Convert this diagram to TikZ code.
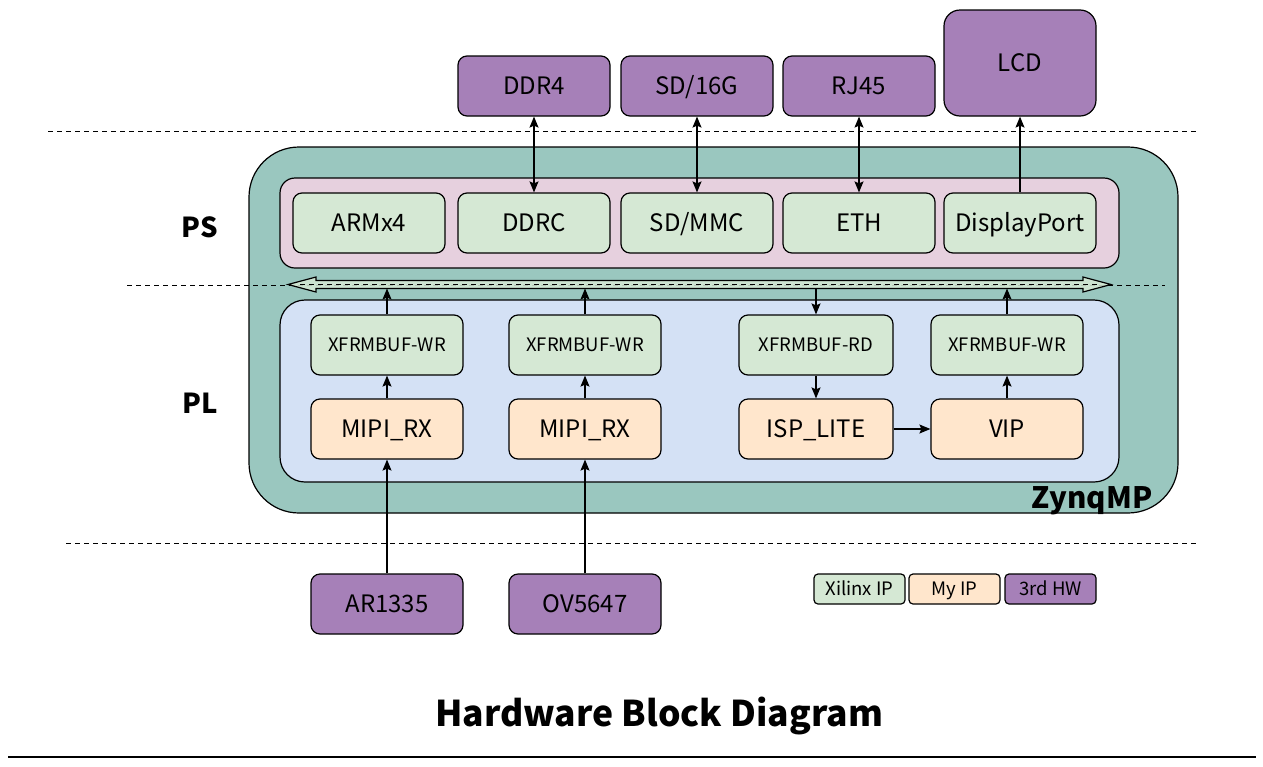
\documentclass[tikz,border=0pt]{standalone}
\usepackage{fontspec}
\setmainfont{Noto Sans CJK SC}
\usetikzlibrary{arrows.meta}
\definecolor{hwpurple}{HTML}{A680B8}
\definecolor{ipgreen}{HTML}{D5E8D4}
\definecolor{myorange}{HTML}{FFE6CC}
\definecolor{plblue}{HTML}{D4E1F5}
\definecolor{pspink}{HTML}{E6D0DE}
\definecolor{zteal}{HTML}{9AC7BF}
\tikzset{
  blk/.style={draw=black, line width=1.2pt, rounded corners=9pt, minimum width=152pt, minimum height=60pt, inner sep=0pt, text depth=0pt, text height=16pt, font=\fontsize{24}{28}\selectfont},
  hw/.style={blk, fill=hwpurple},
  xip/.style={blk, fill=ipgreen},
  myip/.style={blk, fill=myorange},
  small/.style={font=\fontsize{18.5}{22}\selectfont, text height=12.5pt},
  leg/.style={draw=black, line width=1.2pt, rounded corners=4pt, minimum width=91pt, minimum height=30pt, inner sep=0pt, text depth=0pt, text height=12.5pt, font=\fontsize{18.5}{22}\selectfont},
  sep/.style={line width=0.9pt, dash pattern=on 5pt off 4pt},
  conn/.style={line width=1.2pt, -{Stealth[length=11pt,width=9pt,inset=2pt]}},
  bconn/.style={line width=1.2pt, {Stealth[length=11pt,width=9pt,inset=2pt]}-{Stealth[length=11pt,width=9pt,inset=2pt]}},
  lbl/.style={font=\fontsize{27.5}{31}\selectfont\bfseries},
}
\begin{document}
\begin{tikzpicture}[x=1pt,y=-1pt]
\useasboundingbox (0,0) rectangle (1263,766);
\fill[white] (0,0) rectangle (1263,766);

% separators
\draw[sep] (48,131) -- (1198,131);
\draw[sep] (66,543) -- (1198,543);

% ZynqMP container
\draw[line width=1.2pt, fill=zteal, rounded corners=50pt] (249,147) rectangle (1178,513);
\node[font=\fontsize{29.5}{32}\selectfont\bfseries, anchor=base east] (zlbl) at (1156,508) {ZynqMP};
% PS
\draw[line width=1.2pt, fill=pspink, rounded corners=15pt] (280,178) rectangle (1119,268);
% PL
\draw[line width=1.2pt, fill=plblue, rounded corners=25pt] (280,300) rectangle (1119,482);

\node[lbl] (pslbl) at (200,227) {PS};
\node[lbl] (pllbl) at (200,403) {PL};

% external HW
\node[hw] (ddr4) at (534,86) {DDR4};
\node[hw] (sd16) at (697,86) {SD/16G};
\node[hw] (rj45) at (859,86) {RJ45};
\node[hw, minimum height=106pt, rounded corners=16pt] (lcd) at (1020,63) {LCD};

% PS blocks
\node[xip] (arm) at (369,223) {ARMx4};
\node[xip] (ddrc) at (534,223) {DDRC};
\node[xip] (sdmmc) at (697,223) {SD/MMC};
\node[xip] (eth) at (859,223) {ETH};
\node[xip] (dp) at (1020,223) {DisplayPort};

% bus
\draw[sep] (127,285) -- (1165,285);
\draw[line width=1.2pt, fill=ipgreen, fill opacity=0.85]
  (288,284.5) -- (316,277) -- (316,280.5) -- (1083,280.5) -- (1083,277) -- (1111,284.5)
  -- (1083,292) -- (1083,288.5) -- (316,288.5) -- (316,292) -- cycle;
\draw[sep, line width=0.9pt] (300,284.5) -- (1100,284.5);
\coordinate (b1) at (387,288.5);
\coordinate (b2) at (585,288.5);
\coordinate (b3) at (816,288.5);
\coordinate (b4) at (1007,288.5);

% PL blocks
\node[xip, small] (wr1) at (387,345) {XFRMBUF-WR};
\node[xip, small] (wr2) at (585,345) {XFRMBUF-WR};
\node[xip, small, minimum width=154pt] (rd) at (816,345) {XFRMBUF-RD};
\node[xip, small] (wr3) at (1007,345) {XFRMBUF-WR};
\node[myip] (mipi1) at (387,429) {MIPI\_RX};
\node[myip] (mipi2) at (585,429) {MIPI\_RX};
\node[myip, minimum width=154pt] (isp) at (816,429) {ISP\_LITE};
\node[myip] (vip) at (1007,429) {VIP};

% sensors
\node[hw] (ar) at (387,604) {AR1335};
\node[hw] (ov) at (585,604) {OV5647};

% legend
\node[leg, fill=ipgreen] (lx) at (859.5,589) {Xilinx IP};
\node[leg, fill=myorange] (lm) at (954.5,589) {My IP};
\node[leg, fill=hwpurple] (lh) at (1050.5,589) {3rd HW};

% title
\node[font=\fontsize{35.5}{40}\selectfont\bfseries] (title) at (659,716) {Hardware Block Diagram};
\draw[line width=1.2pt] (8,757) -- (1256,757);

% connectors
\draw[bconn] (ddr4.south) -- (ddrc.north);
\draw[bconn] (sd16.south) -- (sdmmc.north);
\draw[bconn] (rj45.south) -- (eth.north);
\draw[conn] (dp.north) -- (lcd.south);

\draw[conn] (wr1.north) -- (b1);
\draw[conn] (wr2.north) -- (b2);
\draw[conn] (b3) -- (rd.north);
\draw[conn] (wr3.north) -- (b4);

\draw[conn] (mipi1.north) -- (wr1.south);
\draw[conn] (mipi2.north) -- (wr2.south);
\draw[conn] (rd.south) -- (isp.north);
\draw[conn] (vip.north) -- (wr3.south);
\draw[conn] (isp.east) -- (vip.west);

\draw[conn] (ar.north) -- (mipi1.south);
\draw[conn] (ov.north) -- (mipi2.south);
\end{tikzpicture}
\end{document}
